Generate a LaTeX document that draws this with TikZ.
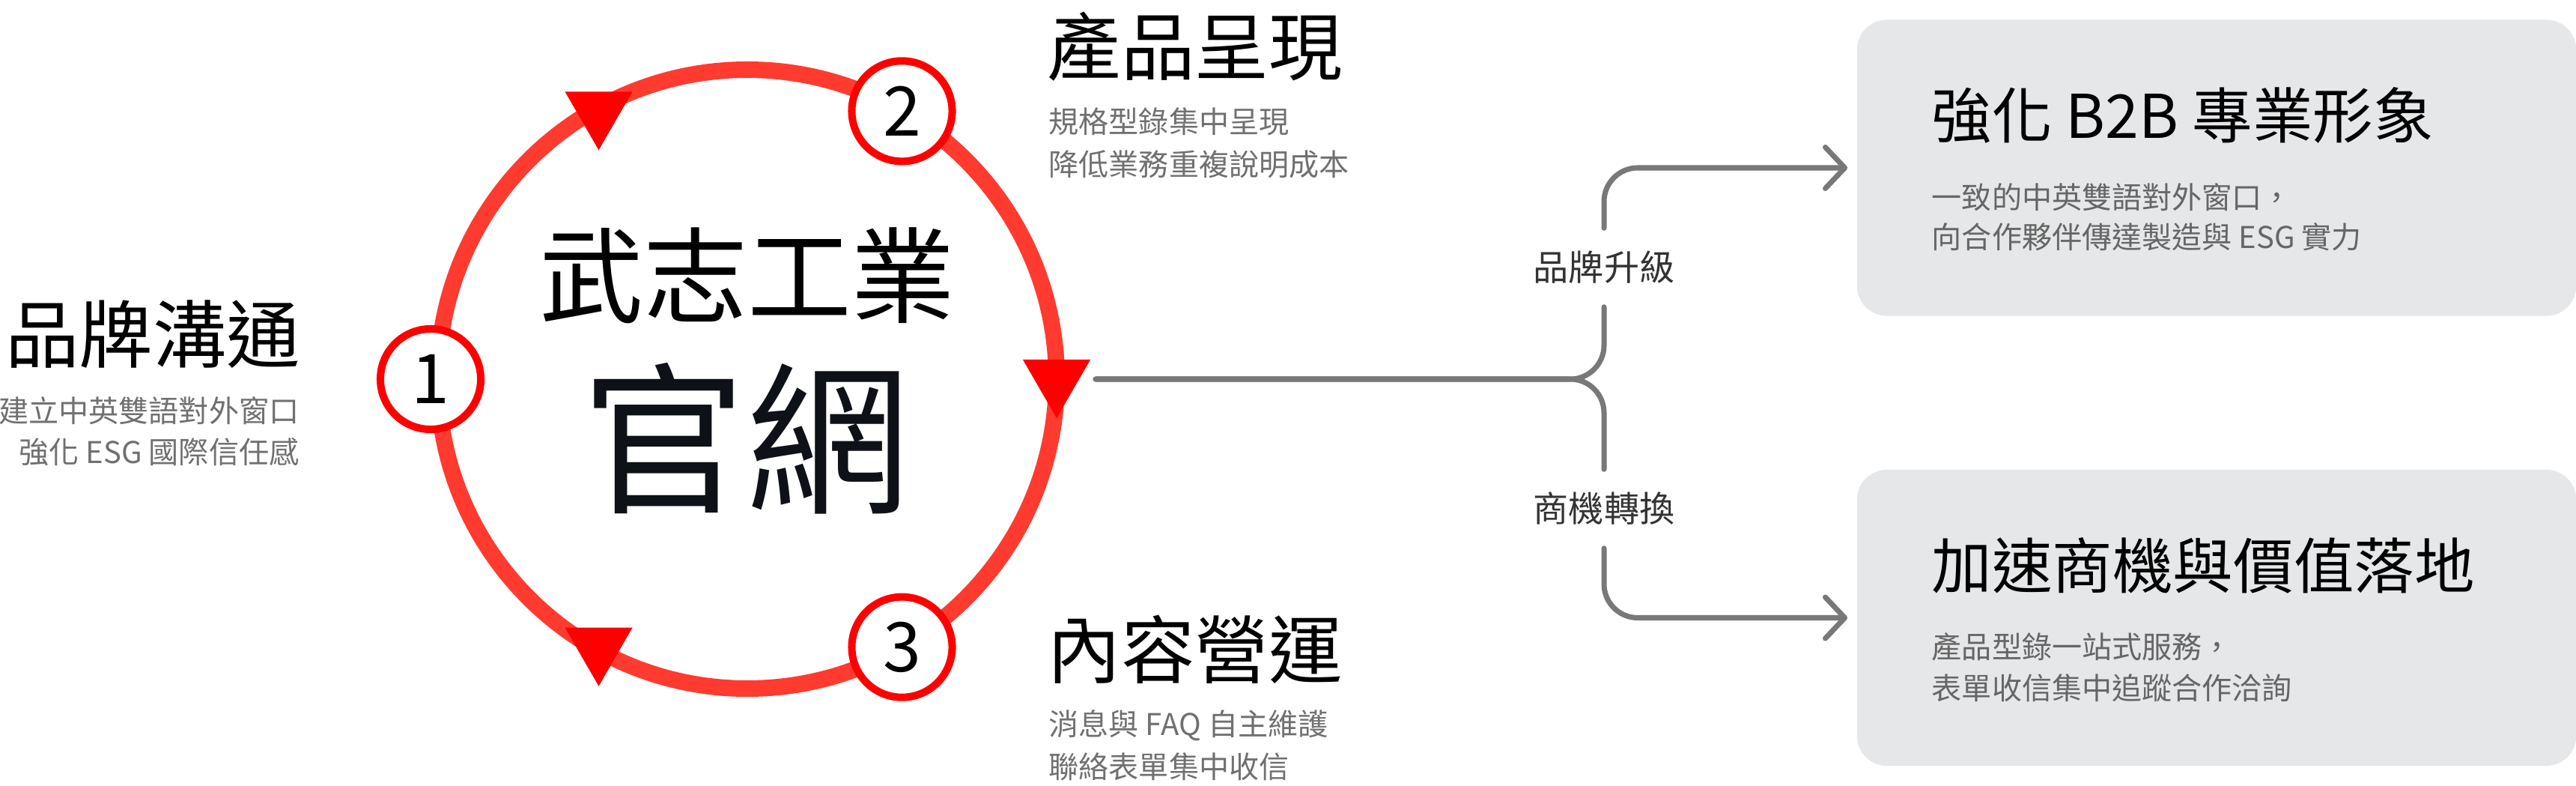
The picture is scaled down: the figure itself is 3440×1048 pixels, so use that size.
\documentclass[tikz,border=0pt]{standalone}
\usepackage{fontspec}
\setmainfont{Noto Sans CJK TC}
\usetikzlibrary{arrows.meta,positioning,shapes.geometric}

\definecolor{ringred}{HTML}{FF3B30}
\definecolor{purered}{HTML}{FF0000}
\definecolor{linkgray}{HTML}{787878}
\definecolor{subgray}{HTML}{707070}
\definecolor{cardgray}{HTML}{E6E7E9}
\definecolor{inkdark}{HTML}{0E1117}

\tikzset{
  badge/.style={circle, draw=purered, line width=2.85pt, fill=white, minimum size=1.34cm, inner sep=0pt, font=\fontsize{26}{26}\selectfont},
  marker/.style={regular polygon, regular polygon sides=3, shape border rotate=180, fill=purered, minimum size=1.04cm, inner sep=0pt},
  link/.style={draw=linkgray, line width=2pt, rounded corners=0.45cm},
  tag/.style={text=black!80, font=\fontsize{13.4}{13.4}\selectfont, minimum height=1.04cm, inner sep=0pt},
  headline/.style={inner sep=0pt, font=\fontsize{28}{28}\selectfont},
  subline/.style={inner sep=0pt, text=subgray, font=\fontsize{11.4}{11.4}\selectfont},
  card/.style={rectangle, rounded corners=0.4cm, fill=cardgray, minimum width=9.6cm, minimum height=3.95cm},
  cardtitle/.style={anchor=west, inner sep=0pt, font=\fontsize{22.9}{22.9}\selectfont},
  cardtext/.style={anchor=west, inner sep=0pt, text=black!60, font=\fontsize{11.4}{11.4}\selectfont}
}

\begin{document}
\begin{tikzpicture}[>={Straight Barb[length=0.26cm,width=0.55cm,round]}, line cap=round, line join=round, x=0.01cm, y=0.01cm]
\useasboundingbox (0,0) rectangle (3440,1048);

% cycle round the site
\coordinate (core) at (998,542);
\draw[ringred, line width=6.26pt] (core) circle[radius=413];
\node[marker] (t1) at ([shift={(120:413)},xshift=0.08cm]core) {};
\node[marker] (t2) at ([shift={(0:413)}]core) {};
\node[marker] (t3) at ([shift={(-120:413)},xshift=0.08cm]core) {};
\node[badge] (b1) at ([shift={(180:423)}]core) {1};
\node[badge] (b2) at ([shift={(60:413)}]core) {2};
\node[badge] (b3) at ([shift={(-60:413)}]core) {3};

\node[font=\fontsize{39.5}{39.5}\selectfont] (brand) at (998,680) {武志工業};
\node[font=\fontsize{62}{62}\selectfont, text=inkdark] (site) at (996,463) {官網};

% the three steps
\node[headline, anchor=east] (s1) at (402,602) {品牌溝通};
\node[subline, anchor=east] (s1a) at (400,500) {建立中英雙語對外窗口};
\node[subline, anchor=east] (s1b) at (400,445) {強化 ESG 國際信任感};

\node[headline, anchor=west] (s2) at (1398,986) {產品呈現};
\node[subline, anchor=west] (s2a) at (1400,886) {規格型錄集中呈現};
\node[subline, anchor=west] (s2b) at (1400,829) {降低業務重複說明成本};

\node[headline, anchor=west] (s3) at (1398,181) {內容營運};
\node[subline, anchor=west] (s3a) at (1400,80) {消息與 FAQ 自主維護};
\node[subline, anchor=west] (s3b) at (1400,25) {聯絡表單集中收信};

% outcomes
\node[card] (card1) at (2960,824) {};
\node[cardtitle] (card1t) at ([xshift=1cm,yshift=0.7cm]card1.west) {強化 B2B 專業形象};
\node[cardtext] (card1a) at ([xshift=1cm,yshift=-0.39cm]card1.west) {一致的中英雙語對外窗口，};
\node[cardtext] (card1b) at ([xshift=1cm,yshift=-0.92cm]card1.west) {向合作夥伴傳達製造與 ESG 實力};

\node[card] (card2) at (2960,223.5) {};
\node[cardtitle] (card2t) at ([xshift=1cm,yshift=0.7cm]card2.west) {加速商機與價值落地};
\node[cardtext] (card2a) at ([xshift=1cm,yshift=-0.385cm]card2.west) {產品型錄一站式服務，};
\node[cardtext] (card2b) at ([xshift=1cm,yshift=-0.935cm]card2.west) {表單收信集中追蹤合作洽詢};

% branch
\coordinate (src) at (1463,542);
\node[tag] (tag1) at (2142,691) {品牌升級};
\node[tag] (tag2) at (2142,369) {商機轉換};
\draw[link] (src) -| (tag1.south);
\draw[link] (src) -| (tag2.north);
\draw[link, ->, shorten >=0.12cm] (tag1.north) |- (card1.west);
\draw[link, ->, shorten >=0.12cm] (tag2.south) |- (card2.west);

\end{tikzpicture}
\end{document}
